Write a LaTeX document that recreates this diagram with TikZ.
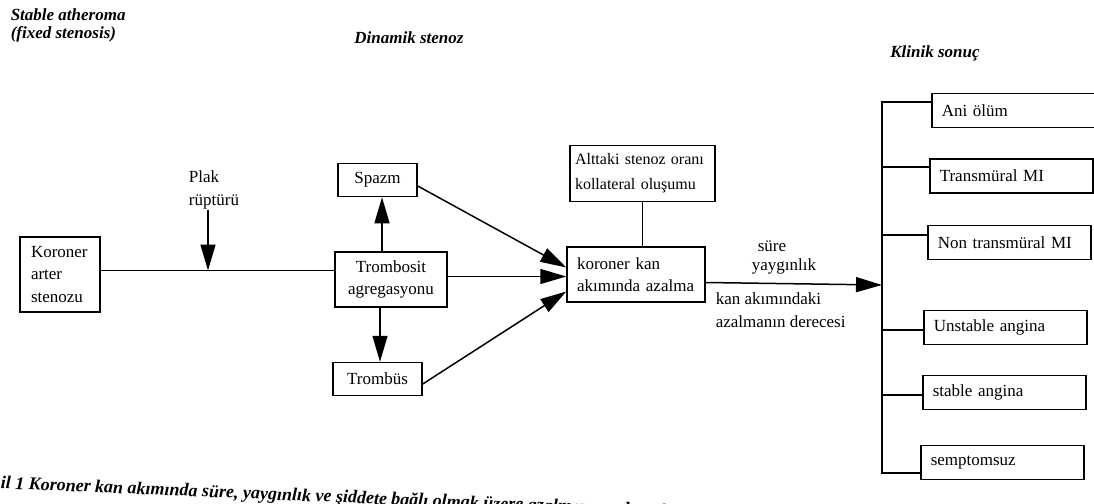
\documentclass[tikz,border=0pt]{standalone}
\usepackage{fontspec}
\setmainfont{Liberation Serif}
\usetikzlibrary{arrows.meta,positioning}
\newcommand{\boxfont}{\fontsize{17}{22.5}\selectfont}
\newcommand{\headfont}{\fontsize{17}{18}\selectfont\bfseries\itshape}

\tikzset{
	box/.style={draw, inner sep=0pt, font=\boxfont},
	outbox/.style={box, anchor=west, minimum height=34pt, text width=143pt, inner xsep=10pt, align=left},
	lbl/.style={inner sep=0pt, font=\boxfont},
	heading/.style={inner sep=0pt, font=\headfont, align=left},
	arr/.style={-{Triangle[length=26pt,width=15pt]}},
}

\begin{document}
\begin{tikzpicture}[x=1pt, y=-1pt, line width=1.5pt]
	\useasboundingbox (0,0) rectangle (1094,503);

	% headings
	\node[heading, anchor=north west] (stable) at (10,8) {Stable atheroma\\(fixed stenosis)};
	\node[heading] (dinamik) at (409,38) {Dinamik stenoz};
	\node[heading] (klinik) at (935,53) {Klinik sonuç};

	% left part
	\node[box, minimum height=75pt, text width=58pt, inner xsep=11pt, align=left] (stenoz) at (60,274.5) {Koroner\\arter\\stenozu};
	\node[box, minimum width=112pt, minimum height=55pt, align=center] (trombosit) at (391,279.5) {Trombosit\\agregasyonu};
	\node[box, minimum width=79pt, minimum height=33pt, above=54pt of trombosit, xshift=-13.5pt] (spazm) {Spazm};
	\node[box, minimum width=89pt, minimum height=33pt, below=54pt of trombosit, xshift=-13.5pt] (trombus) {Trombüs};
	\node[lbl, align=left] (plak) at (214,190) {Plak\\rüptürü};

	% middle part
	\node[box, minimum height=55pt, text width=118pt, inner xsep=10pt, align=left] (akim) at (636,274.5) {koroner kan\\akımında azalma};
	\node[box, font=\fontsize{16}{25}\selectfont, minimum height=56pt, text width=135pt, inner xsep=5pt, align=left, above=44pt of akim, xshift=6.5pt] (alttaki) {Alttaki stenoz oranı\\kollateral oluşumu};
	\node[lbl] (sure) at (772,246) {süre};
	\node[lbl] (yaygin) at (784,266) {yaygınlık};
	\node[lbl, align=left, anchor=west] (derece) at (715,310) {kan akımındaki\\azalmanın derecesi};

	% right part
	\coordinate (trunk) at (882,285);
	\foreach \n/\x/\y/\s/\t in {ani/931/110.5/8.5/Ani ölüm, trans/929/176/9/Transmüral MI, non/927/242.5/7.5/Non transmüral MI, unst/923/327.5/-2.5/Unstable angina, stab/922/392.5/-2.5/stable angina, semp/920/462.5/-10.5/semptomsuz} {
		\node[outbox] (\n) at (\x,\y) {\t};
		\path ([yshift=\s pt]\n.west) coordinate (\n-in);
	}

	% connectors
	\draw ([yshift=4pt]stenoz.east) -- ([yshift=4pt]stenoz.east -| trombosit.west);
	\draw[arr] ([xshift=-6pt]plak.south) -- ([xshift=-6pt, yshift=4pt]plak.south |- stenoz.east);
	\draw[arr] ([xshift=-9pt]trombosit.north) -- ([xshift=-9pt]trombosit.north |- spazm.south);
	\draw[arr] ([xshift=-11pt]trombosit.south) -- ([xshift=-11pt]trombosit.south |- trombus.north);
	\draw[arr] ([yshift=-6pt]spazm.east) -- ([yshift=7pt]akim.west);
	\draw[arr] ([yshift=3pt]trombosit.east) -- ([yshift=-2pt]akim.west);
	\draw[arr] ([yshift=-5pt]trombus.east) -- ([yshift=-17pt]akim.west);
	\draw (alttaki.south) -- (alttaki.south |- akim.north);
	\draw[arr] ([yshift=-8pt]akim.east) -- (trunk);
	\draw (ani-in) -| (trunk) |- (semp-in);
	\foreach \n in {trans, non, unst, stab} {
		\draw (\n-in) -- (\n-in -| trunk);
	}

	% caption
	\node[inner sep=0pt, font=\fontsize{18}{18}\selectfont\bfseries\itshape, anchor=west, rotate=-2.4] (caption) at (0,484) {il 1 Koroner kan akımında süre, yaygınlık ve şiddete bağlı olmak üzere azalmaya neden olan patolojik faktörler};
\end{tikzpicture}
\end{document}
